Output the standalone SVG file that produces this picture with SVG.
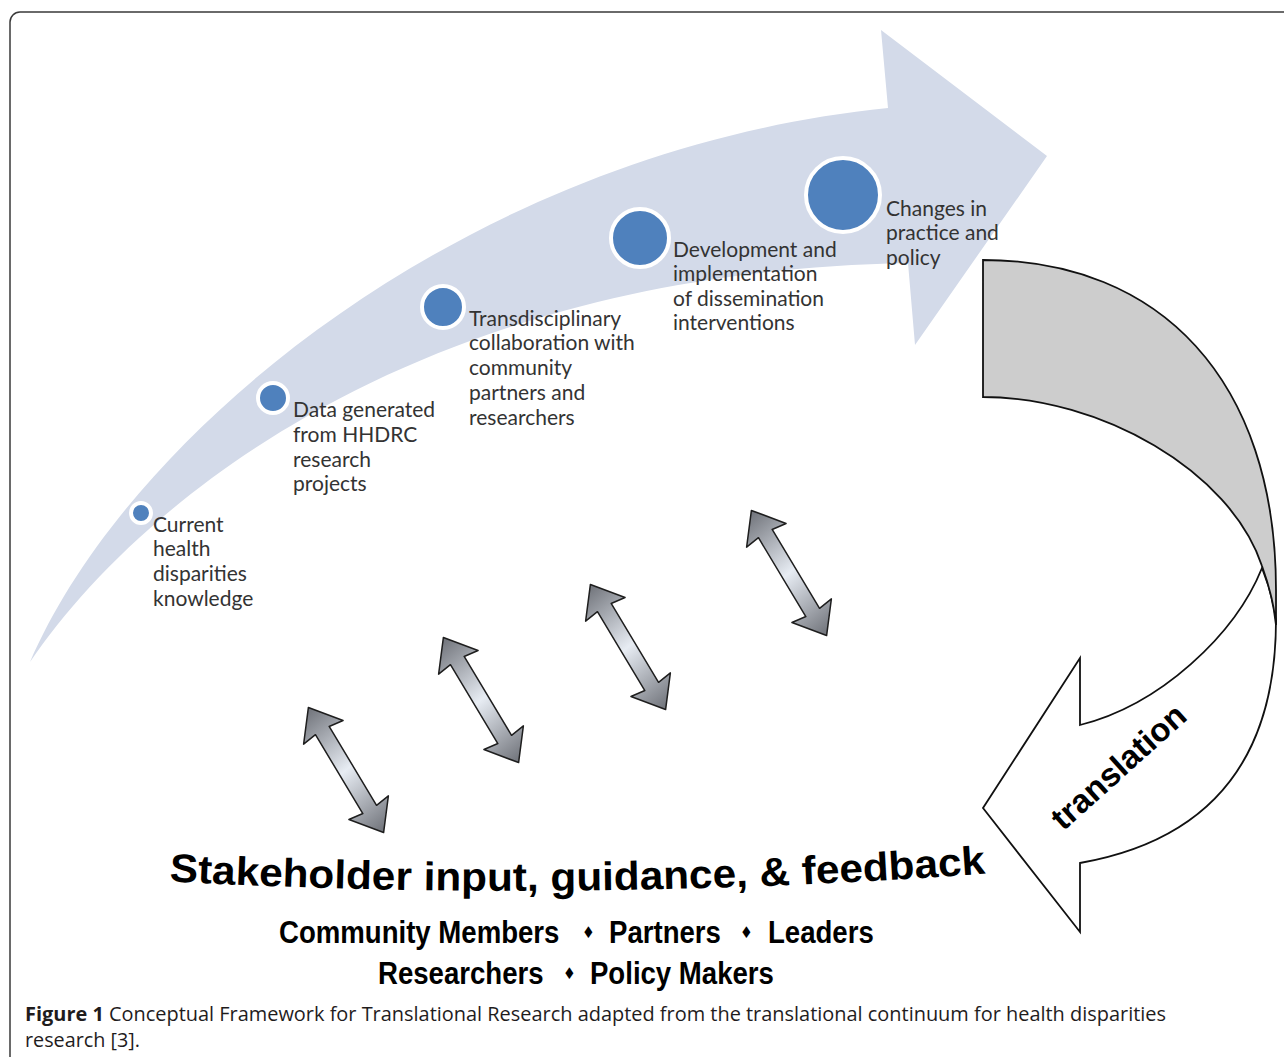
<svg xmlns="http://www.w3.org/2000/svg" width="1284" height="1057" viewBox="0 0 1284 1057">
<defs>
<style>
.lbl{font-family:Lato,"Open Sans","Liberation Sans",sans-serif;font-size:21px;fill:#333333}
.dot{fill:#4f81bd;stroke:#ffffff;stroke-width:4}
.stk{font-family:"Liberation Sans",Arial,sans-serif;font-weight:bold;fill:#000}
.dia{font-family:"DejaVu Sans",sans-serif;font-size:16px}
.cap{font-family:"Open Sans","Liberation Sans",sans-serif;font-size:19.8px;fill:#1f1c1d}
.dbl{stroke:#1e1e1e;stroke-width:1.5;stroke-linejoin:round}
.rib{stroke:#111;stroke-width:1.8;stroke-linejoin:miter}
</style>
<linearGradient id="g" gradientUnits="userSpaceOnUse" x1="-10" y1="-73" x2="10" y2="73">
<stop offset="0" stop-color="#6d7077"/>
<stop offset="0.5" stop-color="#e7ecf3"/>
<stop offset="1" stop-color="#6d7077"/>
</linearGradient>
<path id="da" d="M0,-73 L23,-44 L8,-46 L8,46 L23,44 L0,73 L-23,44 L-8,46 L-8,-46 L-23,-44 Z"/>
<path id="arc" d="M160,881 Q576,904 995,873"/>
</defs>
<rect x="10" y="12" width="1300" height="1080" rx="10" fill="#fff" stroke="#3a3a3a" stroke-width="1.5"/>

<g id="continuum">
<path d="M30,662 C130,430 470,150 888,108 L881,30 L1047,156 L915,345 L908,263 C420,272 140,500 30,662 Z" fill="#d3dae9"/>
</g>

<g id="node-current">
<circle class="dot" cx="141" cy="513" r="10"/>
<text class="lbl" x="153" y="532">Current</text>
<text class="lbl" x="153" y="556">health</text>
<text class="lbl" x="153" y="581">disparities</text>
<text class="lbl" x="153" y="606">knowledge</text>
</g>
<g id="node-data">
<circle class="dot" cx="273" cy="398" r="15"/>
<text class="lbl" x="293" y="417">Data generated</text>
<text class="lbl" x="293" y="442">from HHDRC</text>
<text class="lbl" x="293" y="467">research</text>
<text class="lbl" x="293" y="491">projects</text>
</g>
<g id="node-transdisciplinary">
<circle class="dot" cx="443" cy="307" r="21"/>
<text class="lbl" x="469" y="326">Transdisciplinary</text>
<text class="lbl" x="469" y="350">collaboration with</text>
<text class="lbl" x="469" y="375">community</text>
<text class="lbl" x="469" y="400">partners and</text>
<text class="lbl" x="469" y="425">researchers</text>
</g>
<g id="node-development">
<circle class="dot" cx="640" cy="238" r="29"/>
<text class="lbl" x="673" y="257">Development and</text>
<text class="lbl" x="673" y="281">implementation</text>
<text class="lbl" x="673" y="306">of dissemination</text>
<text class="lbl" x="673" y="330">interventions</text>
</g>
<g id="node-changes">
<circle class="dot" cx="843" cy="195" r="37"/>
<text class="lbl" x="886" y="216">Changes in</text>
<text class="lbl" x="886" y="240">practice and</text>
<text class="lbl" x="886" y="265">policy</text>
</g>

<g id="translation">
<path class="rib" fill="#ffffff" d="M1262,568 C1235,635 1160,705 1080,725 L1080,658 L983,808 L1080,932 L1080,863 C1210,840 1276,760 1276,620 C1274,605 1270,588 1262,568 Z"/>
<path class="rib" fill="#cdcdcd" d="M983,260 C1160,260 1276,380 1276,590 L1276,625 C1274,605 1270,588 1262,566 C1230,470 1100,397 983,397 Z"/>
<text transform="translate(1126,775) rotate(-42)" text-anchor="middle" style="font-family:'Liberation Sans',Arial,sans-serif;font-weight:bold;font-size:33px;fill:#000">translation</text>
</g>

<g id="connectors">
<use href="#da" class="dbl" fill="url(#g)" transform="translate(346,770) rotate(-31)"/>
<use href="#da" class="dbl" fill="url(#g)" transform="translate(481,700) rotate(-31)"/>
<use href="#da" class="dbl" fill="url(#g)" transform="translate(628,647) rotate(-31)"/>
<use href="#da" class="dbl" fill="url(#g)" transform="translate(789,573) rotate(-31)"/>
</g>

<g id="stakeholders">
<text class="stk" font-size="40"><textPath href="#arc" startOffset="50%" text-anchor="middle" textLength="817" lengthAdjust="spacingAndGlyphs">Stakeholder input, guidance, &amp; feedback</textPath></text>
<text class="stk" font-size="31" transform="scale(0.89,1)" y="943"><tspan x="313.5">Community Members</tspan><tspan class="dia" x="654" y="938">♦</tspan><tspan x="684.3" y="943">Partners</tspan><tspan class="dia" x="831.5" y="938">♦</tspan><tspan x="862.9" y="943">Leaders</tspan></text>
<text class="stk" font-size="31" transform="scale(0.89,1)" y="984"><tspan x="424.7">Researchers</tspan><tspan class="dia" x="632.6" y="979">♦</tspan><tspan x="662.9" y="984">Policy Makers</tspan></text>
</g>

<g id="caption">
<text class="cap" x="25" y="1021" textLength="1141" lengthAdjust="spacingAndGlyphs"><tspan font-weight="bold">Figure 1</tspan> Conceptual Framework for Translational Research adapted from the translational continuum for health disparities</text>
<text class="cap" x="25" y="1047">research [3].</text>
</g>
</svg>
